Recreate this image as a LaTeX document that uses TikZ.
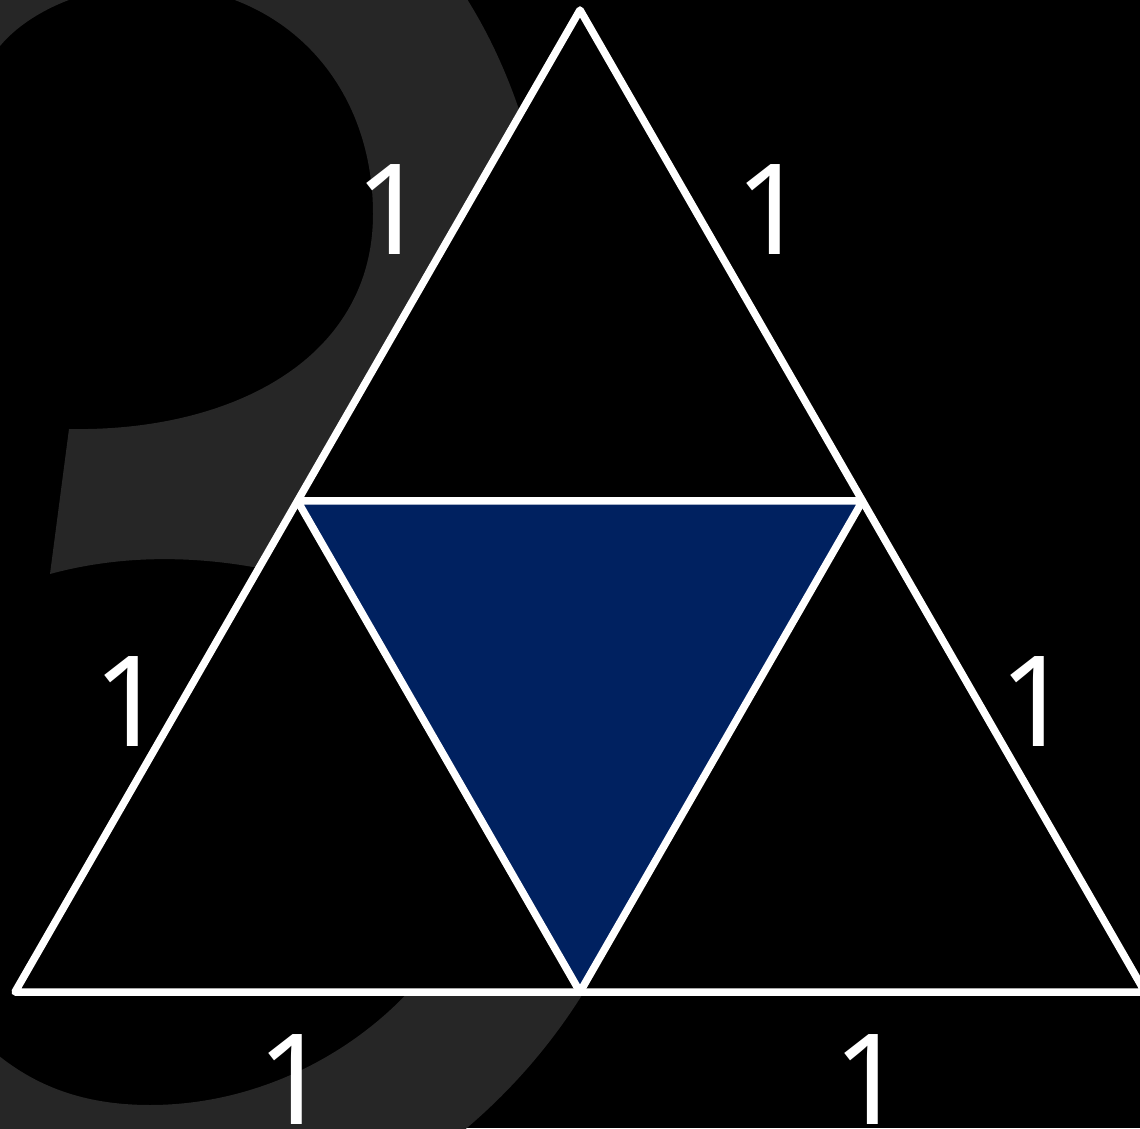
\documentclass[tikz,border=0pt]{standalone}
\usepackage{fontspec}
\setmainfont{Noto Sans}
\usetikzlibrary{positioning}
\definecolor{digitgray}{HTML}{262626}
\definecolor{navyfill}{RGB}{0,33,96}

\begin{document}
\begin{tikzpicture}[x=1pt,y=1pt,
  edge/.style={white,line width=7.5pt,line join=round},
  sidelabel/.style={white,inner sep=0pt,font=\fontsize{126}{126}\selectfont}]
\useasboundingbox (0,0) rectangle (1140,1128);
\fill[black] (0,0) rectangle (1140,1128);
\clip (0,0) rectangle (1140,1128);
% big digit 3 behind the triangle (outline, screen coordinates)
\begin{scope}[shift={(0,1128)},yscale=-1]
\fill[digitgray] (-170,40) .. controls (-120,-120) and (40,-190) .. (190,-190)
  .. controls (330,-190) and (440,-60) .. (490,40)
  .. controls (540,140) and (560,260) .. (540,340)
  .. controls (520,420) and (480,470) .. (440,500)
  .. controls (560,560) and (650,660) .. (650,800)
  .. controls (640,990) and (430,1250) .. (150,1250)
  .. controls (-20,1250) and (-150,1150) .. (-190,1030)
  -- (-50,1005)
  .. controls (0,1070) and (60,1105) .. (150,1105)
  .. controls (330,1105) and (490,960) .. (490,800)
  .. controls (490,640) and (360,560) .. (253,567)
  .. controls (190,556) and (120,555) .. (50,574)
  -- (69,429)
  .. controls (230,432) and (373,360) .. (373,214)
  .. controls (373,80) and (280,-15) .. (150,-15)
  .. controls (90,-15) and (30,10) .. (0,46)
  -- (-40,110) -- cycle;
\end{scope}
% outer triangle and midpoints
\coordinate (apex) at (580,1118);
\coordinate (left) at (15,136);
\coordinate (right) at (1145,136);
\coordinate (midL) at (297.5,627);
\coordinate (midR) at (862.5,627);
\coordinate (midB) at (580,136);
\fill[black] (apex) -- (left) -- (right) -- cycle;
\fill[navyfill] (midL) -- (midR) -- (midB) -- cycle;
\draw[edge] (apex) -- (left) -- (right) -- cycle;
\draw[edge] (midL) -- (midR) -- (midB) -- cycle;
% side lengths
\node[sidelabel] (lTL) at (392,918) {1};
\node[sidelabel] (lTR) at (772,918) {1};
\node[sidelabel] (lML) at (130,426) {1};
\node[sidelabel] (lMR) at (1036,426) {1};
\node[sidelabel] (lBL) at (294,48) {1};
\node[sidelabel] (lBR) at (870,48) {1};
\end{tikzpicture}
\end{document}
